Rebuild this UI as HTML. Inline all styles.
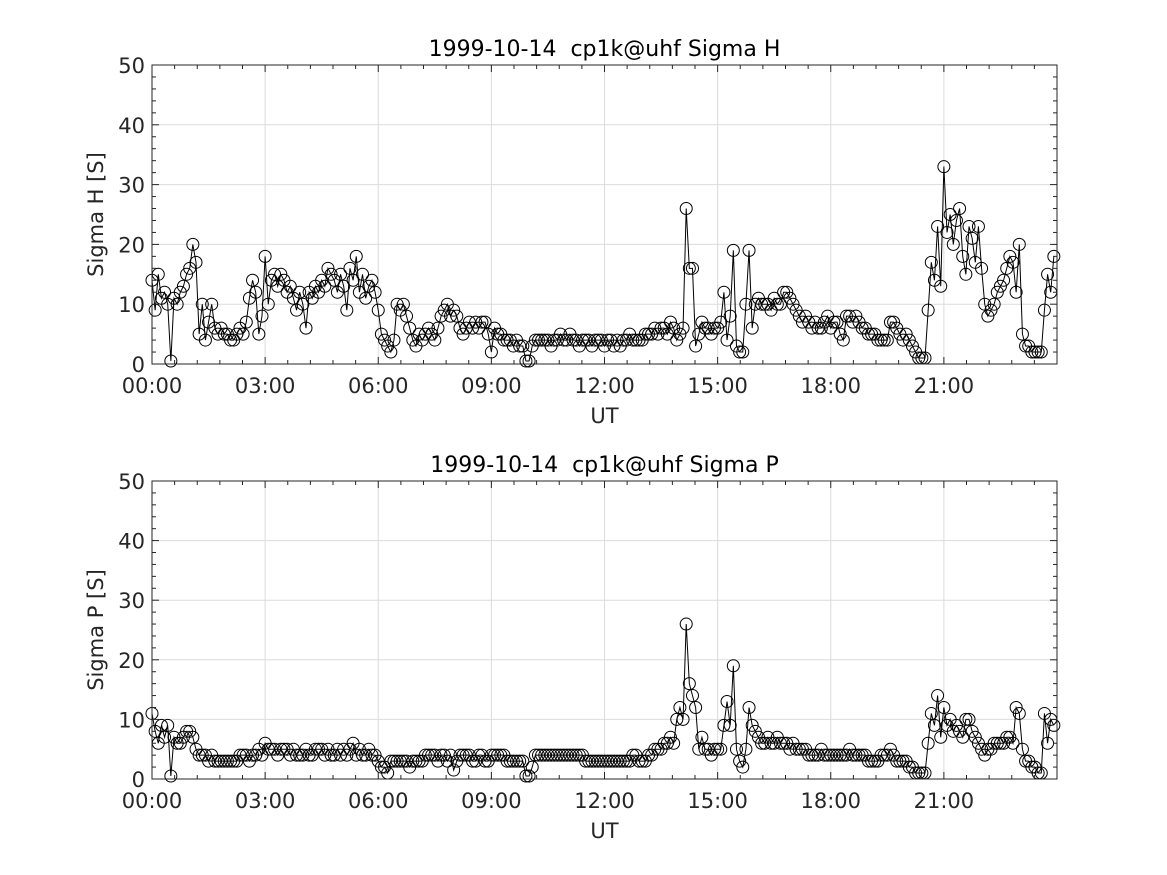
<!DOCTYPE html>
<html><head><meta charset="utf-8">
<style>
html,body{margin:0;padding:0;background:#fff;}
svg{display:block;font-family:"DejaVu Sans","Liberation Sans",sans-serif;}
</style></head>
<body>
<svg id="fig" width="1167" height="875" viewBox="0 0 1167 875" xmlns="http://www.w3.org/2000/svg"></svg>
<script>
const xTickLabels = ["00:00","03:00","06:00","09:00","12:00","15:00","18:00","21:00"];
const yTickLabels = [0,10,20,30,40,50];
const sigmaH = [
14,9,15,11,12,10, 0.5,11,10,12,13,15,
16,20,17,5,10,4, 7,10,6,5,6,5,
5,4,4,5,6,5, 7,11,14,12,5,8,
18,10,14,15,13,15, 14,12,13,11,9,12,
10,6,12,11,13,12, 14,13,16,15,14,12,
15,13,9,16,14,18, 12,15,11,13,14,12,
9,5,4,3,2,4, 10,9,10,8,6,4,
3,5,4,5,6,5, 4,6,8,9,10,8,
9,8,6,5,6,7, 6,7,6,7,7,5,
2,6,5,5,4,4, 4,3,4,3,3,0.5,
0.5,3,4,4,4,4, 4,3,4,4,5,4,
4,5,4,4,3,4, 4,4,3,4,4,4,
3,4,4,3,4,3, 4,4,5,4,4,4,
4,5,5,5,6,5, 6,6,5,7,6,4,
5,6,26,16,16,3, 5,7,6,6,5,6,
6,7,12,4,8,19, 3,2,2,10,19,6,
10,11,10,10,10,9, 11,10,10,12,12,11,
10,9,8,7,8,7, 6,7,6,6,7,8,
6,7,7,5,4,8, 8,7,8,7,6,6,
5,5,5,4,4,4, 4,7,7,6,5,4,
5,4,3,2,1,1, 1,9,17,14,23,13,
33,22,25,20,24,26, 18,15,23,21,17,23,
16,10,8,9,10,12, 13,14,16,18,17,12,
20,5,3,3,2,2, 2,2,9,15,12,18];
const sigmaP = [
11,8,6,9,7,9, 0.5,7,6,6,7,8,
8,7,5,4,4,4, 3,4,3,3,3,3,
3,3,3,3,4,4, 4,3,4,4,5,4,
6,5,5,5,4,5, 5,5,4,5,4,4,
4,5,4,4,5,5, 5,4,5,4,4,5,
4,5,4,5,6,4, 5,4,4,5,4,4,
3,2,2,1,3,3, 3,3,3,3,2,3,
3,3,3,4,4,4, 4,3,4,4,3,4,
1.5,3,4,4,4,4, 3,3,4,4,3,3,
4,4,4,4,4,3, 3,3,3,3,3,0.5,
0.5,2,4,4,4,4, 4,4,4,4,4,4,
4,4,4,4,4,4, 3,3,3,3,3,3,
3,3,3,3,3,3, 3,3,3,4,4,3,
3,3,4,4,5,5, 5,6,6,7,6,10,
12,10,26,16,14,12, 5,7,5,5,4,5,
5,5,9,13,9,19, 5,3,2,5,12,9,
8,7,6,6,7,6, 6,7,6,6,6,5,
6,5,5,5,5,4, 4,4,4,5,4,4,
4,4,4,4,4,4, 5,4,4,4,4,4,
3,3,3,3,4,4, 4,5,4,3,3,3,
3,2,2,1,1,1, 1,6,11,9,14,7,
12,9,10,8,9,8, 7,10,10,8,7,6,
5,4,5,5,6,6, 6,6,7,7,6,12,
11,5,3,3,2,2, 1,1,11,6,10,9];

const NS="http://www.w3.org/2000/svg";
const svg=document.getElementById('fig');
function mk(tag,attrs,parent){const e=document.createElementNS(NS,tag);for(const k in attrs)e.setAttribute(k,attrs[k]);(parent||svg).appendChild(e);return e;}

function panel(top,bottom,title,ylabel,data,key){
  const L=152,R=1057;
  const xs=h=>L+(R-L)*h/24;
  const ys=v=>bottom-(bottom-top)*v/50;
  const g=mk('g',{});
  
  
  mk('rect',{x:L,y:top,width:R-L,height:bottom-top,fill:'#fff'},g);
  for(let i=0;i<8;i++){const x=xs(i*3);const l=mk('line',{x1:x,x2:x,y1:top,y2:bottom,stroke:'#dcdcdc','stroke-width':1},g);}
  yTickLabels.forEach(v=>{const y=ys(v);const l=mk('line',{x1:L,x2:R,y1:y,y2:y,stroke:'#dcdcdc','stroke-width':1},g);});
  const pts=data.map((v,i)=>[xs(i/12),ys(v)]);
  const line=mk('polyline',{points:pts.map(p=>p.join(',')).join(' '),fill:'none',stroke:'#000','stroke-width':1},g);
  
  
  pts.forEach(p=>{const c=mk('circle',{cx:p[0],cy:p[1],r:6,fill:'none',stroke:'#000','stroke-width':1},g);
    
    });
  mk('rect',{x:L,y:top,width:R-L,height:bottom-top,fill:'none',stroke:'#262626','stroke-width':1},g);
  for(let m=0;m<=40;m++){const x=xs(m*0.6);const len=(m%5===0)?7:4;
    mk('line',{x1:x,x2:x,y1:bottom,y2:bottom-len,stroke:'#262626'},g);
    mk('line',{x1:x,x2:x,y1:top,y2:top+len,stroke:'#262626'},g);}
  for(let m=0;m<=25;m++){const y=ys(m*2);const len=(m%5===0)?7:4;
    mk('line',{x1:L,x2:L+len,y1:y,y2:y,stroke:'#262626'},g);
    mk('line',{x1:R,x2:R-len,y1:y,y2:y,stroke:'#262626'},g);}
  xTickLabels.forEach((s,i)=>{const t=mk('text',{x:xs(i*3),y:bottom+29,'font-size':21,'text-anchor':'middle',fill:'#262626'},g);t.textContent=s;
    });
  yTickLabels.forEach(v=>{const t=mk('text',{x:L-7,y:ys(v)+8,'font-size':21,'text-anchor':'end',fill:'#262626'},g);t.textContent=v;
    });
  const tt=mk('text',{x:(L+R)/2,y:top-9,'font-size':22,'text-anchor':'middle',fill:'#000'},g);tt.textContent=title;
  tt.setAttribute('style','white-space:pre');
  
  const xl=mk('text',{x:(L+R)/2,y:bottom+59,'font-size':21,'text-anchor':'middle',fill:'#262626'},g);xl.textContent='UT';
  
  const cy=(top+bottom)/2;
  const yl=mk('text',{x:103,y:cy,'font-size':21,'text-anchor':'middle',fill:'#262626',transform:`rotate(-90 103 ${cy})`},g);yl.textContent=ylabel;
  
}
panel(65,364,'1999-10-14\u00a0\u00a0cp1k@uhf Sigma H','Sigma H [S]',sigmaH,'sigma-h');
panel(481,779,'1999-10-14\u00a0\u00a0cp1k@uhf Sigma P','Sigma P [S]',sigmaP,'sigma-p');
</script>
</body></html>
